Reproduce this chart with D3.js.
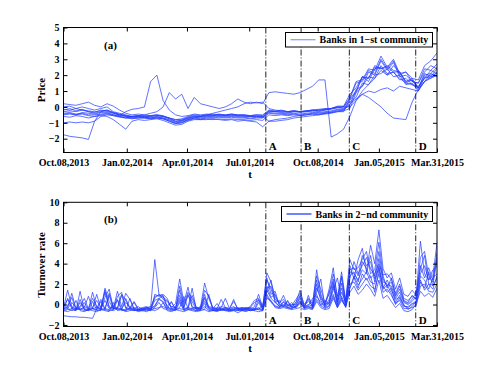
<!DOCTYPE html>
<html><head><meta charset="utf-8">
<script src="https://cdn.jsdelivr.net/npm/d3@7"></script>
<style>body{margin:0;background:#fff}svg{display:block}text{font-family:"Liberation Serif","Times New Roman",serif;font-weight:bold}</style>
</head><body><svg id="c" width="491" height="369"></svg>
<script>
// ---- shared x axis (trading-day index) ----
const xTickIdx = [0, 61, 119, 179, 245, 304, 360];
const xTickLabels = ["Oct.08,2013","Jan.02,2014","Apr.01,2014","Jul.01,2014","Oct.08,2014","Jan.05,2015","Mar.31,2015"];
const eventIdx = [195, 229, 275.5, 339.5];
const eventLabels = ["A","B","C","D"];

// ---- panel (a): price, one value every 6 trading days ----
const priceStep = 6;
const priceTicks = [-2,-1,0,1,2,3,4,5];
const priceS1 = [0.2,0.15,0.1,0.2,0.3,0.1,0.0,0.2,0.05,-0.2, -0.4,-0.5,-0.45,-0.5,-0.55,-0.5,-0.55,-0.7,-0.8,-0.75, -0.6,-0.5,-0.55,-0.5,-0.45,-0.5,-0.5,-0.45,-0.5,-0.5, -0.55,-0.5,-0.5,-0.2,-0.25,-0.2,-0.3,-0.25,-0.3,-0.25, -0.2,-0.15,-0.1,-0.1,0.0,0.0,0.5,1.5,1.6,2.3, 2.1,3.0,2.4,2.9,2.0,2.2,1.6,1.5,2.4,2.3,2.7];
const priceS2 = [0.0,0.05,-0.1,0.0,-0.1,-0.2,-0.1,0.0,-0.3,-0.4, -0.5,-0.6,-0.55,-0.6,-0.6,-0.55,-0.6,-0.7,-0.9,-0.85, -0.7,-0.6,-0.65,-0.6,-0.6,-0.55,-0.6,-0.55,-0.6,-0.55, -0.6,-0.55,-0.6,-0.3,-0.3,-0.35,-0.4,-0.3,-0.35,-0.3, -0.25,-0.3,-0.2,-0.15,-0.05,-0.1,0.4,0.9,1.9,1.6, 2.4,2.5,2.0,2.6,2.2,1.6,1.8,1.2,2.1,1.9,2.4];
const priceS3 = [-0.2,-0.1,-0.25,-0.15,-0.3,-0.35,-0.2,-0.25,-0.4,-0.5, -0.55,-0.65,-0.6,-0.65,-0.7,-0.6,-0.7,-0.8,-0.95,-0.9, -0.75,-0.65,-0.7,-0.65,-0.65,-0.6,-0.65,-0.6,-0.65,-0.65, -0.7,-0.65,-0.65,-0.35,-0.4,-0.4,-0.45,-0.4,-0.45,-0.4, -0.35,-0.35,-0.3,-0.25,-0.15,-0.15,0.1,1.1,1.3,1.9, 1.8,2.6,2.1,2.2,1.7,1.8,1.4,1.3,1.8,2.3,2.1];
const priceS4 = [-0.4,-0.35,-0.45,-0.4,-0.5,-0.5,-0.45,-0.4,-0.5,-0.6, -0.65,-0.7,-0.65,-0.7,-0.7,-0.65,-0.7,-0.85,-1.0,-0.95, -0.8,-0.7,-0.75,-0.7,-0.7,-0.65,-0.7,-0.65,-0.7,-0.7, -0.75,-0.7,-0.7,-0.4,-0.45,-0.45,-0.5,-0.45,-0.5,-0.45, -0.4,-0.4,-0.35,-0.3,-0.2,-0.2,0.3,0.6,1.5,1.4, 2.0,2.1,2.4,1.9,2.0,1.4,1.5,1.0,1.9,1.8,2.2];
const priceS5 = [-0.6,-0.65,-0.55,-0.6,-0.7,-0.6,-0.55,-0.6,-0.8,-1.1, -1.4,-0.9,-0.8,-0.85,-0.8,-0.75,-0.85,-1.0,-1.15,-1.1, -0.9,-0.8,-0.8,-0.75,-0.8,-0.75,-0.8,-0.75,-0.8,-0.8, -0.85,-0.8,-0.85,-0.5,-0.55,-0.5,-0.55,-0.5,-0.55,-0.5, -0.45,-0.45,-0.4,-0.35,-0.3,-0.25,-0.1,0.9,1.3,2.2, 2.0,2.9,2.3,2.8,1.9,2.0,1.6,1.5,2.2,2.6,2.4];
const priceS6 = [-1.0,-0.95,-1.0,-0.95,-1.0,-0.9,-0.6,-0.5,-0.55,-0.6, -0.7,-0.75,-0.7,-0.7,-0.75,-0.7,-0.75,-0.9,-1.05,-1.0, -0.85,-0.75,-0.8,-0.8,-0.75,-0.8,-0.85,-0.8,-0.9,-0.85, -0.9,-0.95,-1.25,-0.9,-0.8,-0.75,-0.7,-0.6,-0.55,-0.5, -0.45,-0.5,-0.45,-0.4,-0.3,-0.3,0.5,1.0,1.9,1.8, 2.6,2.4,2.6,2.3,2.2,1.5,1.7,1.1,1.6,2.1,1.9];
const priceS7 = [-1.75,-1.85,-1.9,-1.95,-2.05,-0.9,-0.3,-0.2,-0.35,-0.5, -0.6,-0.6,-0.55,-0.6,-0.55,-0.5,-0.6,-0.7,-0.8,-0.8, -0.65,-0.55,-0.6,-0.55,-0.55,-0.5,-0.55,-0.5,-0.55,-0.6, -0.6,-0.6,-0.65,-0.25,-0.3,-0.3,-0.35,-0.3,-0.3,-0.3, -0.25,-0.2,-0.2,-0.1,0.0,0.0,0.6,1.6,1.7,2.4, 2.3,3.2,2.5,3.0,2.1,2.2,1.8,1.7,2.6,2.9,3.4];
const priceS8 = [-0.3,-0.25,-0.3,-0.2,-0.3,-0.4,-0.3,-0.35,-0.5,-0.55, -0.3,-0.15,-0.1,0.0,1.6,2.0,0.4,-0.2,-0.5,-0.6, -0.55,-0.45,-0.5,-0.45,-0.5,-0.45,-0.5,-0.45,-0.5,-0.5, -0.55,-0.5,-0.55,-0.25,-0.3,-0.25,-0.3,-0.25,-0.3,-0.25, -0.2,-0.2,-0.15,-0.1,0.05,0.05,0.8,1.2,1.9,1.8, 2.5,2.4,2.5,2.2,2.2,1.6,1.7,1.2,2.0,2.1,2.5];
const priceS9 = [-0.5,-0.45,-0.5,-0.45,-0.55,-0.6,-0.5,-0.45,-0.55,-0.65, -0.7,-0.6,-0.55,-0.5,-0.4,-0.3,0.0,0.9,0.5,0.8, -0.1,0.6,0.2,0.1,0.0,-0.1,0.0,0.2,0.5,0.3, 0.2,0.3,0.2,0.9,0.95,0.9,0.85,0.8,0.9,1.1, 1.3,1.7,1.7,-1.9,-1.7,-1.4,-0.6,0.4,1.0,1.4, 1.8,2.3,2.0,2.2,1.8,1.5,1.4,1.2,1.8,2.0,2.1];
const priceS10 = [-0.15,-0.2,-0.1,-0.2,-0.25,-0.3,-0.25,-0.2,-0.35,-0.45, -0.55,-0.6,-0.6,-0.55,-0.6,-0.55,-0.6,-0.75,-0.9,-0.85, -0.7,-0.6,-0.6,-0.55,-0.55,-0.5,-0.55,-0.5,-0.55,-0.55, -0.6,-0.6,-0.6,-0.9,-0.9,-0.85,-0.8,-0.7,-0.65,-0.6, -0.55,-0.5,-0.4,-0.35,-0.25,-0.2,0.2,0.5,0.8,0.6, 0.3,0.0,-0.4,-0.7,-0.75,-0.8,0.3,1.1,1.6,1.8,2.0];
const priceS11 = [-0.45,-0.4,-0.5,-0.35,-0.4,-0.45,-0.35,-0.3,-0.4,-0.5, -0.6,-0.7,-0.7,-0.65,-0.7,-0.7,-0.75,-0.9,-1.05,-1.0, -0.8,-0.7,-0.6,-0.5,-0.4,-0.3,-0.2,-0.1,0.0,0.2, 0.3,0.25,0.3,-0.1,-0.2,-0.25,-0.3,-0.25,-0.3,-0.25, -0.2,-0.25,-0.15,-0.1,-0.05,0.0,0.0,0.4,0.8,1.0, 0.9,1.1,1.2,1.0,1.3,1.2,1.1,1.0,1.6,1.9,2.0];
const priceSeries = [priceS1,priceS2,priceS3,priceS4,priceS5,priceS6,priceS7,priceS8,priceS9,priceS10,priceS11];

// ---- panel (b): turnover rate, one value every 4 trading days ----
const turnStep = 4;
const turnTicks = [-2,0,2,4,6,8,10];
const turnB1 = [-0.3,1.4,-0.2,-0.5,0.2,-0.4,-0.5,1.2,-0.3,-0.4, 1.6,0.3,-0.4,1.3,-0.2,1.1,0.5,-0.4,-0.5,-0.4, -0.5,-0.3,4.4,1.0,0.7,0.4,-0.3,0.1,2.5,0.2, 1.7,-0.2,-0.4,-0.3,2.1,0.6,-0.4,-0.5,-0.3,0.6, -0.4,0.5,-0.5,-0.4,-0.3,-0.5,-0.2,1.0,-0.3,3.1, 2.2,0.8,0.1,0.9,-0.1,-0.2,0.2,1.4,-0.1,0.3, -0.1,3.4,1.0,0.0,1.5,3.6,0.5,3.2,0.4,3.8, 2.5,4.4,5.5,3.2,5.8,4.0,7.3,3.5,2.6,3.1, 1.5,2.6,1.0,0.8,1.4,0.9,6.2,3.0,2.4,2.8,6.0];
const turnB2 = [-0.5,0.6,-0.4,-0.6,1.3,-0.5,-0.6,0.3,-0.5,-0.6, 1.4,-0.3,-0.5,0.8,1.2,-0.4,-0.5,-0.6,-0.5,-0.6, -0.4,-0.6,1.0,0.8,0.9,-0.2,-0.5,-0.4,1.4,-0.3, 0.9,0.3,-0.5,-0.6,1.0,-0.3,-0.6,-0.5,-0.6,-0.4, -0.6,-0.5,-0.6,-0.5,-0.6,-0.4,-0.6,0.2,-0.5,2.4, 1.5,0.3,-0.2,-0.1,-0.3,-0.4,-0.1,0.8,-0.3,-0.2, -0.4,2.0,0.4,-0.2,0.5,2.5,0.0,2.1,-0.1,2.5, 4.2,3.0,3.8,4.6,3.5,2.8,5.2,2.5,1.8,2.2, 0.8,1.5,0.3,0.1,0.5,1.2,3.5,4.8,2.0,1.9,4.3];
const turnB3 = [-1.1,-1.15,-1.2,-1.2,-1.25,-1.25,-1.3,-1.35,-0.4,0.5, -0.4,1.1,-0.3,-0.5,-0.4,-0.6,0.6,-0.5,-0.6,-0.5, -0.6,-0.5,0.8,0.9,1.0,0.6,-0.4,-0.5,-0.4,-0.5, -0.3,1.6,-0.5,-0.4,-0.5,1.0,-0.5,-0.6,-0.5,-0.6, -0.5,-0.6,-0.4,-0.6,-0.5,-0.6,-0.4,-0.5,-0.6,1.8, 0.7,1.0,0.0,-0.2,0.4,-0.3,-0.2,0.3,-0.4,0.9, -0.3,1.2,2.5,-0.3,0.2,1.4,2.6,0.5,-0.2,3.2, 3.0,2.4,3.4,3.0,4.8,2.5,3.6,1.8,1.2,1.6, 0.2,0.9,-0.1,-0.3,0.0,0.4,2.8,2.4,1.5,2.6,3.0];
const turnB4 = [-0.4,-0.3,1.1,-0.4,-0.5,-0.3,0.8,-0.4,-0.3,-0.5, 0.7,1.5,-0.3,-0.4,0.9,-0.3,-0.4,-0.3,-0.5,-0.4, -0.3,-0.4,-0.1,0.6,0.8,-0.3,-0.4,-0.3,0.6,-0.4, -0.3,-0.4,-0.3,-0.4,0.3,-0.3,-0.4,0.1,-0.5,-0.3, -0.5,-0.4,-0.3,-0.4,-0.5,-0.3,-0.4,-0.5,0.0,1.2, 2.4,0.2,-0.2,0.0,-0.2,0.2,-0.3,0.1,-0.2,-0.1, 0.6,1.0,-0.1,0.4,0.0,1.8,-0.1,1.2,0.2,1.6, 2.8,1.9,2.5,3.2,2.2,2.0,3.8,1.6,2.4,1.4, 0.5,0.7,0.0,-0.5,-0.2,0.3,2.2,1.6,3.2,1.8,2.6];
const turnB5 = [-0.6,-0.7,-0.5,0.4,-0.6,-0.7,-0.5,-0.6,-0.7,-0.5, -0.6,-0.7,0.2,-0.6,-0.5,-0.7,-0.6,-0.5,-0.7,-0.6, -0.7,-0.5,-0.6,-0.4,0.2,-0.6,-0.7,-0.5,-0.6,-0.7, -0.5,-0.6,-0.7,-0.6,-0.5,-0.7,-0.6,-0.7,-0.5,-0.6, -0.7,-0.6,-0.8,-0.6,-0.7,-0.5,-0.6,-0.7,-0.6,0.6, 0.4,-0.3,-0.4,-0.3,-0.4,-0.5,-0.4,-0.3,-0.5,-0.4, -0.5,0.3,-0.3,-0.5,-0.4,0.6,-0.3,0.4,-0.2,1.2, 1.8,1.0,1.4,2.0,1.5,0.8,2.4,0.6,0.9,0.3, -0.3,0.1,-0.6,-0.7,-0.5,0.1,1.3,0.8,1.1,0.7,1.6];
const turnB6 = [-0.2,0.5,-0.3,-0.4,-0.2,0.6,-0.4,-0.3,0.4,-0.3, 1.2,-0.2,-0.4,-0.3,1.0,0.4,-0.3,0.3,-0.4,-0.3, -0.2,-0.4,-0.2,0.5,0.3,-0.1,0.2,-0.4,1.8,0.0, 1.2,0.6,-0.3,-0.4,1.4,0.8,-0.3,-0.4,0.5,-0.3, -0.4,0.3,-0.4,-0.3,-0.4,-0.2,0.4,0.6,-0.2,2.6, 1.0,1.3,-0.1,0.2,0.0,-0.1,0.5,1.1,0.0,0.6, 0.1,2.8,1.5,0.2,1.0,3.0,0.8,2.6,0.3,4.4, 3.4,3.6,4.4,5.2,3.0,3.4,6.1,2.9,3.0,2.5, 1.1,2.0,0.6,0.4,0.8,0.6,4.6,5.2,2.8,2.2,5.1];
const turnB7 = [-0.5,-0.4,-0.6,-0.5,-0.4,-0.6,-0.5,-0.4,-0.6,-0.5, -0.4,-0.5,-0.6,-0.4,-0.5,-0.6,-0.4,-0.5,-0.6,-0.5, -0.4,-0.5,-0.4,-0.3,-0.2,-0.4,-0.5,-0.6,0.2,-0.5, -0.4,-0.5,-0.6,-0.5,0.1,-0.5,-0.6,-0.5,-0.4,-0.5, -0.6,-0.5,-0.4,-0.6,-0.5,-0.6,-0.5,-0.4,-0.5,0.8, 0.2,-0.2,-0.3,-0.2,-0.3,-0.2,-0.3,0.2,-0.3,-0.2, -0.3,0.8,0.2,-0.3,-0.1,1.0,-0.2,0.8,-0.1,2.0, 2.2,1.4,2.0,2.6,1.8,1.5,3.0,1.2,1.5,0.9, 0.1,0.4,-0.4,-0.4,-0.3,-0.1,1.8,2.0,1.3,1.2,2.0];
const turnB8 = [0.1,-0.4,0.2,-0.3,-0.5,-0.2,-0.4,0.6,-0.2,-0.4, 0.4,-0.4,-0.2,0.5,-0.4,0.2,-0.3,-0.4,-0.2,-0.5, -0.3,-0.2,0.6,1.0,0.5,0.3,-0.2,-0.3,0.9,-0.3, 1.0,-0.3,-0.4,-0.2,0.7,-0.2,-0.3,-0.4,-0.2,-0.3, -0.4,-0.2,-0.5,-0.3,-0.4,-0.3,0.2,0.4,-0.4,1.6, 1.8,0.5,0.2,0.5,-0.1,0.0,0.0,0.6,-0.2,0.0, -0.2,1.6,0.6,0.0,0.2,2.0,0.3,1.6,0.0,3.4, 3.6,2.8,4.8,3.8,4.2,2.2,4.5,2.2,2.0,1.8, 0.6,1.2,0.2,0.0,0.3,0.8,3.0,3.8,2.4,3.4,3.8];
const turnB9 = [-0.4,-0.2,0.7,-0.5,-0.3,0.2,-0.5,-0.4,1.0,-0.4, -0.5,0.9,-0.4,-0.3,-0.5,0.6,-0.4,0.2,-0.5,-0.4, -0.3,-0.5,0.4,0.6,0.2,-0.4,0.3,-0.5,-0.3,0.8, -0.4,0.9,-0.3,-0.5,0.6,-0.4,-0.5,-0.3,-0.5,-0.4, -0.5,-0.3,-0.4,-0.5,-0.3,-0.4,-0.5,0.5,-0.4,1.4, 0.6,0.2,0.4,-0.2,0.3,-0.3,0.2,0.9,-0.2,0.5, -0.2,2.4,0.8,-0.1,1.2,2.2,0.2,2.8,0.1,2.8, 3.2,2.2,4.2,3.5,2.6,3.0,4.0,2.8,1.6,2.6, 0.9,1.8,0.4,0.2,0.9,0.5,3.8,2.6,3.6,2.4,4.6];
const turnB10 = [-0.6,-0.5,-0.4,-0.6,0.5,-0.5,-0.6,-0.4,-0.5,0.3, -0.5,-0.6,-0.5,0.4,-0.6,-0.5,-0.4,-0.6,-0.5,-0.6, -0.5,-0.6,-0.3,0.2,-0.4,-0.5,-0.6,-0.5,0.4,-0.6, -0.5,-0.4,-0.6,-0.5,-0.2,-0.6,-0.5,-0.6,-0.4,-0.5, -0.6,-0.5,-0.6,-0.5,-0.4,-0.6,-0.5,-0.3,-0.6,1.0, 0.3,-0.1,-0.3,0.3,-0.3,-0.4,-0.2,0.4,-0.4,-0.3, -0.4,0.5,-0.1,-0.4,-0.2,0.8,-0.3,0.6,-0.3,1.6, 2.6,1.6,3.0,2.4,2.8,1.2,3.4,1.5,1.9,1.1, 0.0,0.6,-0.2,-0.2,0.1,0.2,2.4,1.4,2.0,1.5,2.8];
const turnSeries = [turnB1,turnB2,turnB3,turnB4,turnB5,turnB6,turnB7,turnB8,turnB9,turnB10];

// ---- drawing ----
const svg = d3.select("#c");
const X0 = 63.5, X1 = 437;
const x = d3.scaleLinear().domain([0,360]).range([X0,X1]);
const lineColor = "rgb(35,60,255)";

function panel(o){
  const y = d3.scaleLinear().domain(o.yDomain).range([o.bottom,o.top]);
  const g = svg.append("g");
  const cid = "clip"+o.id;
  svg.append("clipPath").attr("id",cid).append("rect")
    .attr("x",X0).attr("y",o.top).attr("width",X1-X0).attr("height",o.bottom-o.top);
  const lines = g.append("g").attr("clip-path","url(#"+cid+")");
  const ln = d3.line().x((d,i)=>x(i*o.step)).y(d=>y(d));
  o.series.forEach(s=>{
    lines.append("path").attr("d",ln(s)).attr("fill","none")
      .attr("stroke",lineColor).attr("stroke-width",0.85).attr("stroke-opacity",0.85);
  });
  eventIdx.forEach((e,k)=>{
    g.append("line").attr("x1",x(e)).attr("x2",x(e)).attr("y1",o.top).attr("y2",o.bottom)
      .attr("stroke","#222").attr("stroke-width",1).attr("stroke-dasharray","6,2,1,2");
    g.append("text").attr("x",x(e)+3).attr("y",o.bottom-3).attr("font-size",11).text(eventLabels[k]);
  });
  const fs = 10;
  g.append("g").attr("transform","translate(0,"+o.bottom+")")
    .call(d3.axisBottom(x).tickValues(xTickIdx).tickFormat((d,i)=>xTickLabels[i]).tickSizeInner(-4).tickSizeOuter(0).tickPadding(6));
  g.append("g").attr("transform","translate(0,"+o.top+")")
    .call(d3.axisTop(x).tickValues(xTickIdx).tickFormat("").tickSizeInner(-4).tickSizeOuter(0));
  g.append("g").attr("transform","translate("+X0+",0)")
    .call(d3.axisLeft(y).tickValues(o.yTicks).tickSizeInner(-4).tickSizeOuter(0).tickPadding(4));
  g.append("g").attr("transform","translate("+X1+",0)")
    .call(d3.axisRight(y).tickValues(o.yTicks).tickFormat("").tickSizeInner(-4).tickSizeOuter(0));
  g.selectAll(".domain").remove();
  g.selectAll(".tick line").attr("stroke","#000");
  g.selectAll(".tick text").attr("font-size",fs).attr("font-family",'"Liberation Serif",serif').attr("font-weight","bold").attr("fill","#000");
  g.append("rect").attr("x",X0).attr("y",o.top).attr("width",X1-X0).attr("height",o.bottom-o.top)
    .attr("fill","none").attr("stroke","#000").attr("stroke-width",1);
  g.append("text").attr("x",104).attr("y",o.top+21).attr("font-size",11).text(o.tag);
  g.append("text").attr("transform","translate(45,"+o.ylabY+") rotate(-90)")
    .attr("text-anchor","middle").attr("font-size",11).text(o.ylabel);
  g.append("text").attr("x",250).attr("y",o.bottom+25).attr("text-anchor","middle").attr("font-size",11).text("t");
  const L = o.legend;
  g.append("rect").attr("x",L.x).attr("y",L.y).attr("width",L.w).attr("height",L.h)
    .attr("fill","#fff").attr("stroke","#000").attr("stroke-width",1);
  g.append("line").attr("x1",L.x+5).attr("x2",L.x+30).attr("y1",L.y+L.h/2).attr("y2",L.y+L.h/2)
    .attr("stroke",lineColor).attr("stroke-width",L.lw).attr("stroke-opacity",0.8);
  g.append("text").attr("x",L.x+34).attr("y",L.y+L.h/2+3.5).attr("font-size",10).text(L.text);
}

panel({id:"a", top:27.5, bottom:152.5, yDomain:[-2.87,5], yTicks:priceTicks,
  series:priceSeries, step:priceStep, tag:"(a)", ylabel:"Price", ylabY:90,
  legend:{x:285.5,y:32.5,w:147,h:14.5,text:"Banks in 1\u2212st community",lw:0.8}});
panel({id:"b", top:202.3, bottom:326.5, yDomain:[-2.15,10], yTicks:turnTicks,
  series:turnSeries, step:turnStep, tag:"(b)", ylabel:"Turnover rate", ylabY:265,
  legend:{x:281.5,y:206.5,w:151,h:15,text:"Banks in 2\u2212nd community",lw:1.6}});
</script></body></html>
